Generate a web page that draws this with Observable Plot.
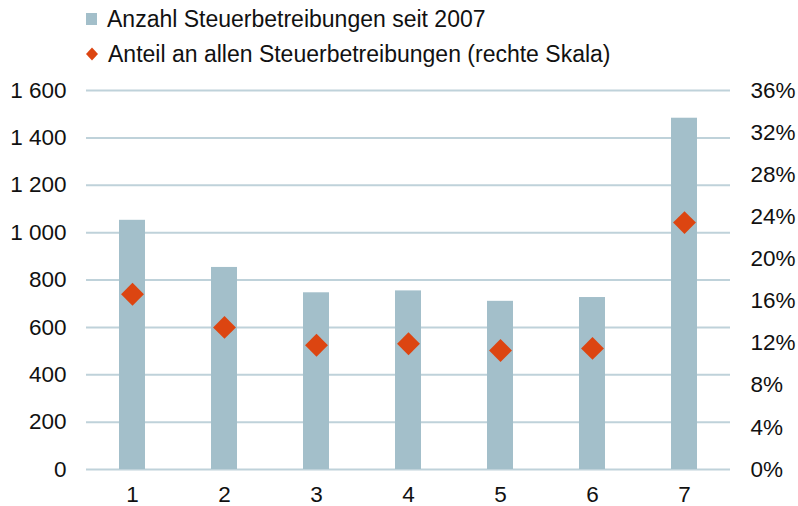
<!DOCTYPE html>
<html>
<head>
<meta charset="utf-8">
<script src="https://cdn.jsdelivr.net/npm/d3@7"></script>
<script src="https://cdn.jsdelivr.net/npm/@observablehq/plot@0.6"></script>
<style>
  body { margin: 0; background: #fff; font-family: "Liberation Sans", Arial, sans-serif; }
  #legend { position: relative; height: 70px; width: 798px; }
  .item { position: absolute; left: 86px; font-size: 23px; line-height: 26px; color: #111; display: flex; align-items: center; white-space: nowrap; }
  .sw { display: inline-block; margin-right: 10px; }
</style>
</head>
<body>
<div id="legend">
  <div class="item" style="top:6px"><span class="sw" style="width:11px;height:12px;background:#a3bfca"></span><span id="l1"></span></div>
  <div class="item" style="top:41px"><svg class="sw" width="12" height="14" viewBox="-6 -7 12 14"><path d="M0,-6.5L6,0L0,6.5L-6,0Z" fill="#dc4511"/></svg><span id="l2"></span></div>
</div>
<div id="chart"></div>
<script>
const categories = ["1", "2", "3", "4", "5", "6", "7"];
const counts = [1052, 853, 746, 754, 710, 726, 1483];
const shares = [16.65, 13.5, 11.8, 11.95, 11.3, 11.5, 23.45];
const leftTicks = [0, 200, 400, 600, 800, 1000, 1200, 1400, 1600];
const rightTicks = [0, 4, 8, 12, 16, 20, 24, 28, 32, 36];
const seriesNames = ["Anzahl Steuerbetreibungen seit 2007", "Anteil an allen Steuerbetreibungen (rechte Skala)"];

document.getElementById("l1").textContent = seriesNames[0];
document.getElementById("l2").textContent = seriesNames[1];

const leftMax = 1600, rightMax = 36;
const toLeft = p => p * leftMax / rightMax;
const data = categories.map((c, i) => ({cat: c, count: counts[i], share: shares[i]}));

const plot = Plot.plot({
  width: 798,
  height: 436,
  marginLeft: 86,
  marginRight: 68,
  marginTop: 20,
  marginBottom: 37,
  style: {fontFamily: "'Liberation Sans', Arial, sans-serif", fontSize: "22.5px", color: "#111", background: "#fff", overflow: "visible"},
  x: {domain: categories, paddingInner: 0.72, paddingOuter: 0.36, label: null},
  y: {domain: [0, leftMax], label: null},
  marks: [
    Plot.ruleY(leftTicks, {stroke: "#bfd2da", strokeWidth: 2}),
    Plot.barY(data, {x: "cat", y: "count", fill: "#a3bfca"}),
    Plot.dot(data, {x: "cat", y: d => toLeft(d.share), symbol: "diamond2", r: 10.3, fill: "#dc4511", stroke: "none"}),
    Plot.axisY({ticks: leftTicks, tickSize: 0, tickPadding: 20, label: null,
      tickFormat: v => d3.format(",")(v).replace(",", " ")}),
    Plot.axisY({anchor: "right", ticks: rightTicks.map(toLeft), tickSize: 0, tickPadding: 20, label: null,
      tickFormat: v => Math.round(v * rightMax / leftMax) + "%"}),
    Plot.axisX({tickSize: 0, tickPadding: 17, label: null})
  ]
});
document.getElementById("chart").appendChild(plot);
</script>
</body>
</html>
